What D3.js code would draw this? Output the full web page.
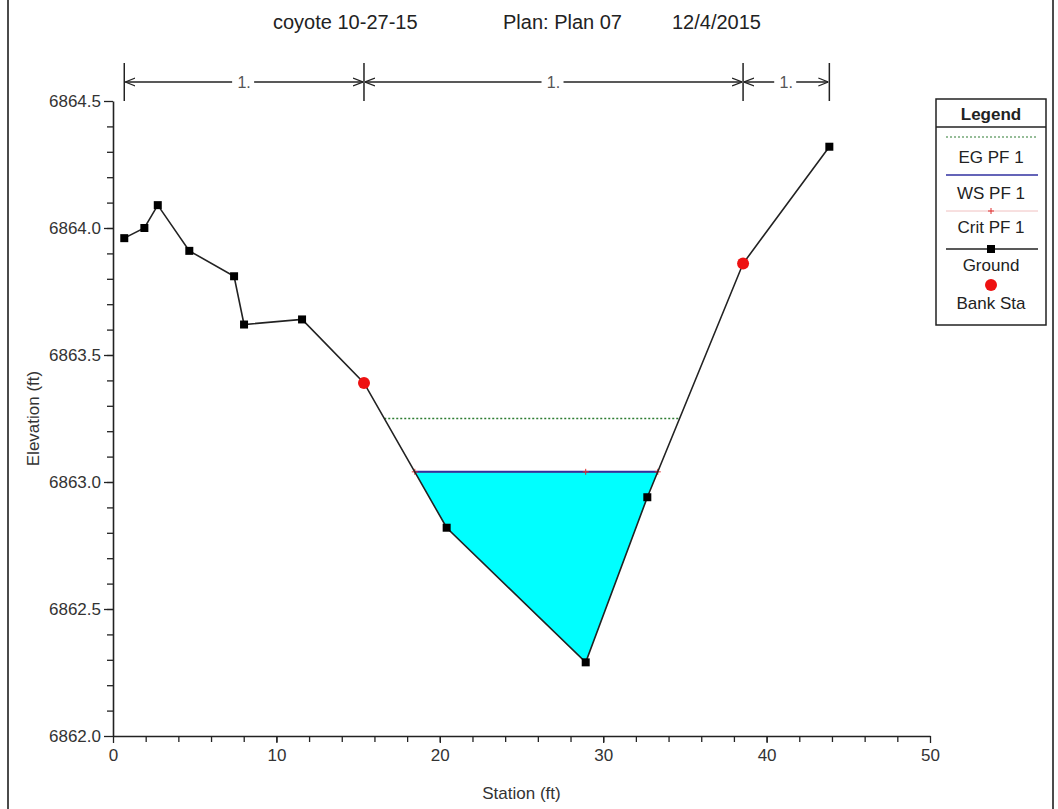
<!DOCTYPE html>
<html>
<head>
<meta charset="utf-8">
<script src="https://cdn.jsdelivr.net/npm/d3@7"></script>
<style>
  body { margin: 0; background: #fff; }
  svg { display: block; font-family: "Liberation Sans", Arial, sans-serif; }
</style>
</head>
<body>
<svg></svg>
<script>
const width = 1058, height = 809;

// ground profile (station ft, elevation ft)
const groundSta = [0.69, 1.92, 2.74, 4.67, 7.41, 8.02, 11.57, 15.36, 20.42, 28.93, 32.70, 38.56, 43.84];
const groundElev = [6863.96, 6864.00, 6864.09, 6863.91, 6863.81, 6863.62, 6863.64, 6863.39, 6862.82, 6862.29, 6862.94, 6863.86, 6864.32];
const bankSta = [15.36, 38.56];
const bankElev = [6863.39, 6863.86];
// water surface, energy grade, critical depth
const wsSta = [18.47, 33.34];
const wsElev = 6863.04;
const egSta = [16.6, 34.67];
const egElev = 6863.25;
const critSta = [18.47, 28.93, 33.34];
const critElev = 6863.04;
// manning n dividers across the top
const nBreaks = [0.69, 15.36, 38.56, 43.84];
const nLabels = ["1.", "1.", "1."];

const xTicks = [0, 10, 20, 30, 40, 50];
const yTicks = [6862.0, 6862.5, 6863.0, 6863.5, 6864.0, 6864.5];

const svg = d3.select("svg").attr("width", width).attr("height", height);

const x = d3.scaleLinear().domain([0, 50]).range([113, 930]);
const y = d3.scaleLinear().domain([6862, 6864.5]).range([736, 101]);

// outer frame
svg.append("rect")
  .attr("x", 8).attr("y", -5).attr("width", 1045).attr("height", height + 10)
  .attr("fill", "none").attr("stroke", "#111").attr("stroke-width", 1.5);

// title
const title = svg.append("text")
  .attr("y", 29).attr("font-size", 20).attr("fill", "#222");
title.append("tspan").attr("x", 273).text("coyote 10-27-15");
title.append("tspan").attr("x", 503).text("Plan: Plan 07");
title.append("tspan").attr("x", 672).text("12/4/2015");

// water fill
const pts = [[wsSta[0], wsElev]];
groundSta.forEach((s, i) => { if (s > wsSta[0] && s < wsSta[1]) pts.push([s, groundElev[i]]); });
pts.push([wsSta[1], wsElev]);
svg.append("path")
  .attr("d", d3.line().x(d => x(d[0])).y(d => y(d[1]))(pts) + "Z")
  .attr("fill", "#00ffff");

// energy grade
svg.append("line")
  .attr("x1", x(egSta[0])).attr("x2", x(egSta[1]))
  .attr("y1", y(egElev)).attr("y2", y(egElev))
  .attr("stroke", "#2e7d32").attr("stroke-width", 1.3).attr("stroke-dasharray", "2,2");

// critical
svg.append("line")
  .attr("x1", x(critSta[0])).attr("x2", x(critSta[critSta.length - 1]))
  .attr("y1", y(critElev)).attr("y2", y(critElev))
  .attr("stroke", "#e03030").attr("stroke-width", 1);

// water surface
svg.append("line")
  .attr("x1", x(wsSta[0])).attr("x2", x(wsSta[1]))
  .attr("y1", y(wsElev)).attr("y2", y(wsElev))
  .attr("stroke", "#3030a0").attr("stroke-width", 2);

svg.selectAll(".crit").data(critSta).join("path")
  .attr("d", d => `M${x(d) - 3},${y(critElev)}h6M${x(d)},${y(critElev) - 3}v6`)
  .attr("stroke", "#e03030").attr("stroke-width", 1);

// ground
const ground = groundSta.map((s, i) => [s, groundElev[i]]);
svg.append("path")
  .attr("d", d3.line().x(d => x(d[0])).y(d => y(d[1]))(ground))
  .attr("fill", "none").attr("stroke", "#222").attr("stroke-width", 1.6);
svg.selectAll(".gp").data(ground).join("rect")
  .attr("x", d => x(d[0]) - 4).attr("y", d => y(d[1]) - 4)
  .attr("width", 8).attr("height", 8).attr("fill", "#000");

svg.selectAll(".bank").data(bankSta).join("circle")
  .attr("cx", d => x(d)).attr("cy", (d, i) => y(bankElev[i]))
  .attr("r", 6).attr("fill", "#ee1111");

// axes
const yAxis = svg.append("g").attr("transform", `translate(${x(0)},0)`)
  .call(d3.axisLeft(y).tickValues(yTicks).tickSize(9).tickPadding(3).tickSizeOuter(0).tickFormat(d3.format(".1f")));
svg.append("g").attr("transform", `translate(${x(0)},0)`)
  .call(d3.axisLeft(y).tickValues(d3.range(6862.1, 6864.5, 0.1)).tickSize(6).tickFormat(""))
  .select(".domain").remove();
const xAxis = svg.append("g").attr("transform", `translate(0,${y(6862)})`)
  .call(d3.axisBottom(x).tickValues(xTicks).tickSize(7).tickPadding(6).tickSizeOuter(0));
svg.append("g").attr("transform", `translate(0,${y(6862)})`)
  .call(d3.axisBottom(x).tickValues(d3.range(2, 50, 2)).tickSize(6).tickFormat(""))
  .select(".domain").remove();

svg.selectAll(".domain").attr("stroke", "#222").attr("stroke-width", 1.6);
svg.selectAll(".tick line").attr("stroke", "#222").attr("stroke-width", 1.3);
yAxis.selectAll("text").attr("font-size", 17).attr("fill", "#333").attr("font-family", "Liberation Sans, Arial, sans-serif");
xAxis.selectAll("text").attr("font-size", 17).attr("fill", "#333").attr("font-family", "Liberation Sans, Arial, sans-serif");

svg.append("text")
  .attr("transform", `translate(39,${(y(6862) + y(6864.5)) / 2}) rotate(-90)`)
  .attr("text-anchor", "middle").attr("font-size", 17).attr("fill", "#333")
  .text("Elevation (ft)");
svg.append("text")
  .attr("x", (x(0) + x(50)) / 2).attr("y", 799)
  .attr("text-anchor", "middle").attr("font-size", 17).attr("fill", "#333")
  .text("Station (ft)");

// n value arrows
const defs = svg.append("defs");
defs.append("marker").attr("id", "arr").attr("viewBox", "0 -5 10 10")
  .attr("refX", 10).attr("refY", 0).attr("markerWidth", 10).attr("markerHeight", 10)
  .attr("markerUnits", "userSpaceOnUse").attr("orient", "auto-start-reverse")
  .append("path").attr("d", "M0,-4L10,0L0,4").attr("fill", "none").attr("stroke", "#222").attr("stroke-width", 1.3);

const nG = svg.append("g");
const arrowY = 82;
nG.selectAll(".nb").data(nBreaks).join("line")
  .attr("x1", d => x(d)).attr("x2", d => x(d)).attr("y1", 63).attr("y2", 101)
  .attr("stroke", "#222").attr("stroke-width", 1.5);
nLabels.forEach((lab, i) => {
  const a = x(nBreaks[i]), b = x(nBreaks[i + 1]), m = (a + b) / 2;
  nG.append("line").attr("x1", m).attr("x2", a + 1).attr("y1", arrowY).attr("y2", arrowY)
    .attr("stroke", "#222").attr("stroke-width", 1.3).attr("marker-end", "url(#arr)");
  nG.append("line").attr("x1", m).attr("x2", b - 1).attr("y1", arrowY).attr("y2", arrowY)
    .attr("stroke", "#222").attr("stroke-width", 1.3).attr("marker-end", "url(#arr)");
  nG.append("rect").attr("x", m - 12).attr("y", arrowY - 9).attr("width", 22).attr("height", 18).attr("fill", "#fff");
  nG.append("text").attr("x", m).attr("y", arrowY + 6).attr("text-anchor", "middle")
    .attr("font-size", 16).attr("fill", "#555").text(lab);
});

// legend
const lg = svg.append("g");
const lx = 936, lw = 110, ly = 99, lh = 226;
const lc = lx + lw / 2;
lg.append("rect").attr("x", lx).attr("y", ly).attr("width", lw).attr("height", lh)
  .attr("fill", "#fff").attr("stroke", "#222").attr("stroke-width", 1.5);
lg.append("line").attr("x1", lx).attr("x2", lx + lw).attr("y1", 127).attr("y2", 127)
  .attr("stroke", "#222").attr("stroke-width", 1.5);
lg.append("text").attr("x", lc).attr("y", 120).attr("text-anchor", "middle")
  .attr("font-size", 17).attr("font-weight", "bold").attr("fill", "#222").text("Legend");

const legItems = ["EG PF 1", "WS PF 1", "Crit PF 1", "Ground", "Bank Sta"];
const legTextY = [163, 199, 233, 271, 309];
const legSymY = [137, 175, 211, 249, 285];
legItems.forEach((t, i) => {
  lg.append("text").attr("x", lc).attr("y", legTextY[i]).attr("text-anchor", "middle")
    .attr("font-size", 17).attr("fill", "#222").text(t);
});
const sx1 = lx + 10, sx2 = lx + lw - 8;
lg.append("line").attr("x1", sx1).attr("x2", sx2).attr("y1", legSymY[0]).attr("y2", legSymY[0])
  .attr("stroke", "#2e7d32").attr("stroke-width", 1.2).attr("stroke-dasharray", "2,2");
lg.append("line").attr("x1", sx1).attr("x2", sx2).attr("y1", legSymY[1]).attr("y2", legSymY[1])
  .attr("stroke", "#3030a0").attr("stroke-width", 1.5);
lg.append("line").attr("x1", sx1).attr("x2", sx2).attr("y1", legSymY[2]).attr("y2", legSymY[2])
  .attr("stroke", "#f0c0c0").attr("stroke-width", 1);
lg.append("path").attr("d", `M${lc - 3},${legSymY[2]}h6M${lc},${legSymY[2] - 3}v6`)
  .attr("stroke", "#e03030").attr("stroke-width", 1);
lg.append("line").attr("x1", sx1).attr("x2", sx2).attr("y1", legSymY[3]).attr("y2", legSymY[3])
  .attr("stroke", "#222").attr("stroke-width", 1.6);
lg.append("rect").attr("x", lc - 4).attr("y", legSymY[3] - 4).attr("width", 8).attr("height", 8).attr("fill", "#000");
lg.append("circle").attr("cx", lc).attr("cy", legSymY[4]).attr("r", 6).attr("fill", "#ee1111");
</script>
</body>
</html>
